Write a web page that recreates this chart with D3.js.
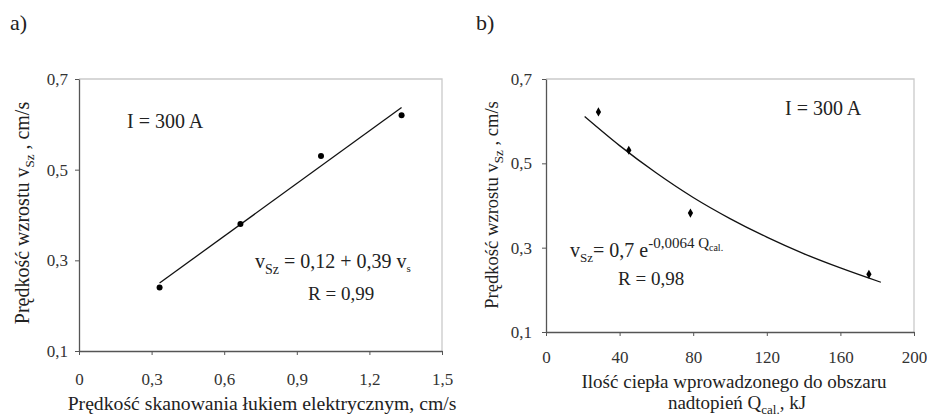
<!DOCTYPE html>
<html>
<head>
<meta charset="utf-8">
<script src="https://cdn.jsdelivr.net/npm/d3@7"></script>
<style>
  body { margin: 0; background: #fff; }
  svg { display: block; }
</style>
</head>
<body>
<div id="chart"></div>
<script>
//Canvas size
var width = 927, height = 416;
var serif = "'Liberation Serif', 'Times New Roman', serif";

//Data for panel a) - scan speed vs growth speed
var speedA = [0.333, 0.667, 1.0, 1.333];
var growthA = [0.24, 0.38, 0.53, 0.62];
//Trend line endpoints
var trendAx = [0.333, 1.333];
var trendAy = [0.25, 0.637];
var xTicksA = [0, 0.3, 0.6, 0.9, 1.2, 1.5];

//Data for panel b) - heat vs growth speed
var heatB = [28.5, 45, 78.5, 175.5];
var growthB = [0.622, 0.531, 0.382, 0.237];
//Trend curve
var trendBx = [21, 40, 60, 80, 100, 120, 140, 160, 182];
var trendBy = [0.611, 0.542, 0.477, 0.419, 0.369, 0.325, 0.286, 0.252, 0.218];
var xTicksB = [0, 40, 80, 120, 160, 200];

var yTicks = [0.1, 0.3, 0.5, 0.7];

var fmt = function(d) { return String(d).replace(".", ","); };

var svg = d3.select("#chart").append("svg")
    .attr("width", width)
    .attr("height", height)
    .attr("font-family", serif);

//draws one panel frame, returns scales
function panel(box, xDomain, xTicks, tickY, tickX) {
    var x = d3.scaleLinear().domain(xDomain).range([box.left, box.right]);
    var y = d3.scaleLinear().domain([0.1, 0.7]).range([box.bottom, box.top]);
    var g = svg.append("g");

    //light frame top and right
    g.append("path")
        .attr("d", "M" + box.left + "," + box.top + "H" + box.right + "V" + box.bottom)
        .attr("fill", "none")
        .attr("stroke", "#cacaca")
        .attr("stroke-width", 1.3);

    var xAxis = g.append("g")
        .attr("transform", "translate(0," + box.bottom + ")")
        .call(d3.axisBottom(x).tickValues(xTicks).tickSize(4).tickSizeOuter(0).tickFormat(fmt));
    var yAxis = g.append("g")
        .attr("transform", "translate(" + box.left + ",0)")
        .call(d3.axisLeft(y).tickValues(yTicks).tickSize(4).tickSizeOuter(0).tickFormat(fmt));

    [xAxis, yAxis].forEach(function(a) {
        a.attr("font-family", null).attr("font-size", null);
        a.select(".domain").attr("stroke", "#555").attr("stroke-width", 1.3);
        a.selectAll(".tick line").attr("stroke", "#555");
        a.selectAll("text")
            .style("font-size", "17px")
            .attr("fill", "#333");
    });
    xAxis.selectAll("text").attr("y", tickY).attr("dy", "0.71em");
    yAxis.selectAll("text").attr("x", tickX).attr("dy", "0.33em");
    return { x: x, y: y, g: g };
}

// ---- panel a ----
var boxA = { left: 79, right: 442, top: 79, bottom: 351 };
var A = panel(boxA, [0, 1.5], xTicksA, 22, -11);

A.g.append("line")
    .attr("x1", A.x(trendAx[0])).attr("y1", A.y(trendAy[0]))
    .attr("x2", A.x(trendAx[1])).attr("y2", A.y(trendAy[1]))
    .attr("stroke", "#111").attr("stroke-width", 1.3);

A.g.selectAll("circle")
    .data(speedA)
    .enter().append("circle")
    .attr("cx", function(d) { return A.x(d); })
    .attr("cy", function(d, i) { return A.y(growthA[i]); })
    .attr("r", 3)
    .attr("fill", "#000");

svg.append("text").attr("x", 10).attr("y", 30).style("font-size", "22px").text("a)");

A.g.append("text").attr("x", 127).attr("y", 128).style("font-size", "20px").text("I = 300 A");

var eqA = A.g.append("text").attr("x", 255).attr("y", 268).style("font-size", "20px");
eqA.append("tspan").text("v");
eqA.append("tspan").attr("dy", 6).style("font-size", "14px").text("Sz");
eqA.append("tspan").attr("dy", -6).text(" = 0,12 + 0,39 v");
eqA.append("tspan").attr("dy", 4).style("font-size", "11px").text("s");

A.g.append("text").attr("x", 308).attr("y", 300).style("font-size", "19px").text("R = 0,99");

var ytA = A.g.append("text")
    .attr("transform", "translate(29,213) rotate(-90)")
    .attr("text-anchor", "middle")
    .style("font-size", "20px");
ytA.append("tspan").text("Prędkość wzrostu  v");
ytA.append("tspan").attr("dy", 5).style("font-size", "13px").text("Sz");
ytA.append("tspan").attr("dy", -5).text(" , cm/s");

A.g.append("text")
    .attr("x", 262).attr("y", 410)
    .attr("text-anchor", "middle")
    .style("font-size", "19.7px")
    .text("Prędkość skanowania łukiem elektrycznym, cm/s");

// ---- panel b ----
var boxB = { left: 546, right: 914, top: 79, bottom: 332 };
var B = panel(boxB, [0, 200], xTicksB, 19, -14);

var curve = d3.line()
    .x(function(d) { return B.x(d); })
    .y(function(d, i) { return B.y(trendBy[i]); })
    .curve(d3.curveMonotoneX);

B.g.append("path")
    .attr("d", curve(trendBx))
    .attr("fill", "none")
    .attr("stroke", "#111")
    .attr("stroke-width", 1.3);

B.g.selectAll(".pt")
    .data(heatB)
    .enter().append("path")
    .attr("class", "pt")
    .attr("d", d3.symbol().type(d3.symbolDiamond).size(24))
    .attr("transform", function(d, i) { return "translate(" + B.x(d) + "," + B.y(growthB[i]) + ")"; })
    .attr("fill", "#000");

svg.append("text").attr("x", 476).attr("y", 30).style("font-size", "22px").text("b)");

B.g.append("text").attr("x", 785).attr("y", 115).style("font-size", "20px").text("I = 300 A");

var eqB = B.g.append("text").attr("x", 570).attr("y", 257).style("font-size", "20px");
eqB.append("tspan").text("v");
eqB.append("tspan").attr("dy", 5).style("font-size", "13px").text("Sz");
eqB.append("tspan").attr("dy", -5).text("= 0,7 e");
eqB.append("tspan").attr("dy", -9).style("font-size", "15px").text("-0,0064 Q");
eqB.append("tspan").attr("dy", 3).style("font-size", "10px").text("cal.");

B.g.append("text").attr("x", 618).attr("y", 285).style("font-size", "19px").text("R = 0,98");

var ytB = B.g.append("text")
    .attr("transform", "translate(498,205) rotate(-90)")
    .attr("text-anchor", "middle")
    .style("font-size", "18.6px");
ytB.append("tspan").text("Prędkość wzrostu  v");
ytB.append("tspan").attr("dy", 5).style("font-size", "13px").text("Sz");
ytB.append("tspan").attr("dy", -5).text(" , cm/s");

B.g.append("text")
    .attr("x", 734).attr("y", 388)
    .attr("text-anchor", "middle")
    .style("font-size", "19px")
    .text("Ilość ciepła wprowadzonego do obszaru");

var xtB = B.g.append("text")
    .attr("x", 737).attr("y", 409)
    .attr("text-anchor", "middle")
    .style("font-size", "19px");
xtB.append("tspan").text("nadtopień Q");
xtB.append("tspan").attr("dy", 5).style("font-size", "13px").text("cal.");
xtB.append("tspan").attr("dy", -5).text(", kJ");

//make sure every text uses the serif face
svg.selectAll("text").style("font-family", serif).attr("fill", function() {
    return d3.select(this).attr("fill") || "#222";
});
</script>
</body>
</html>
